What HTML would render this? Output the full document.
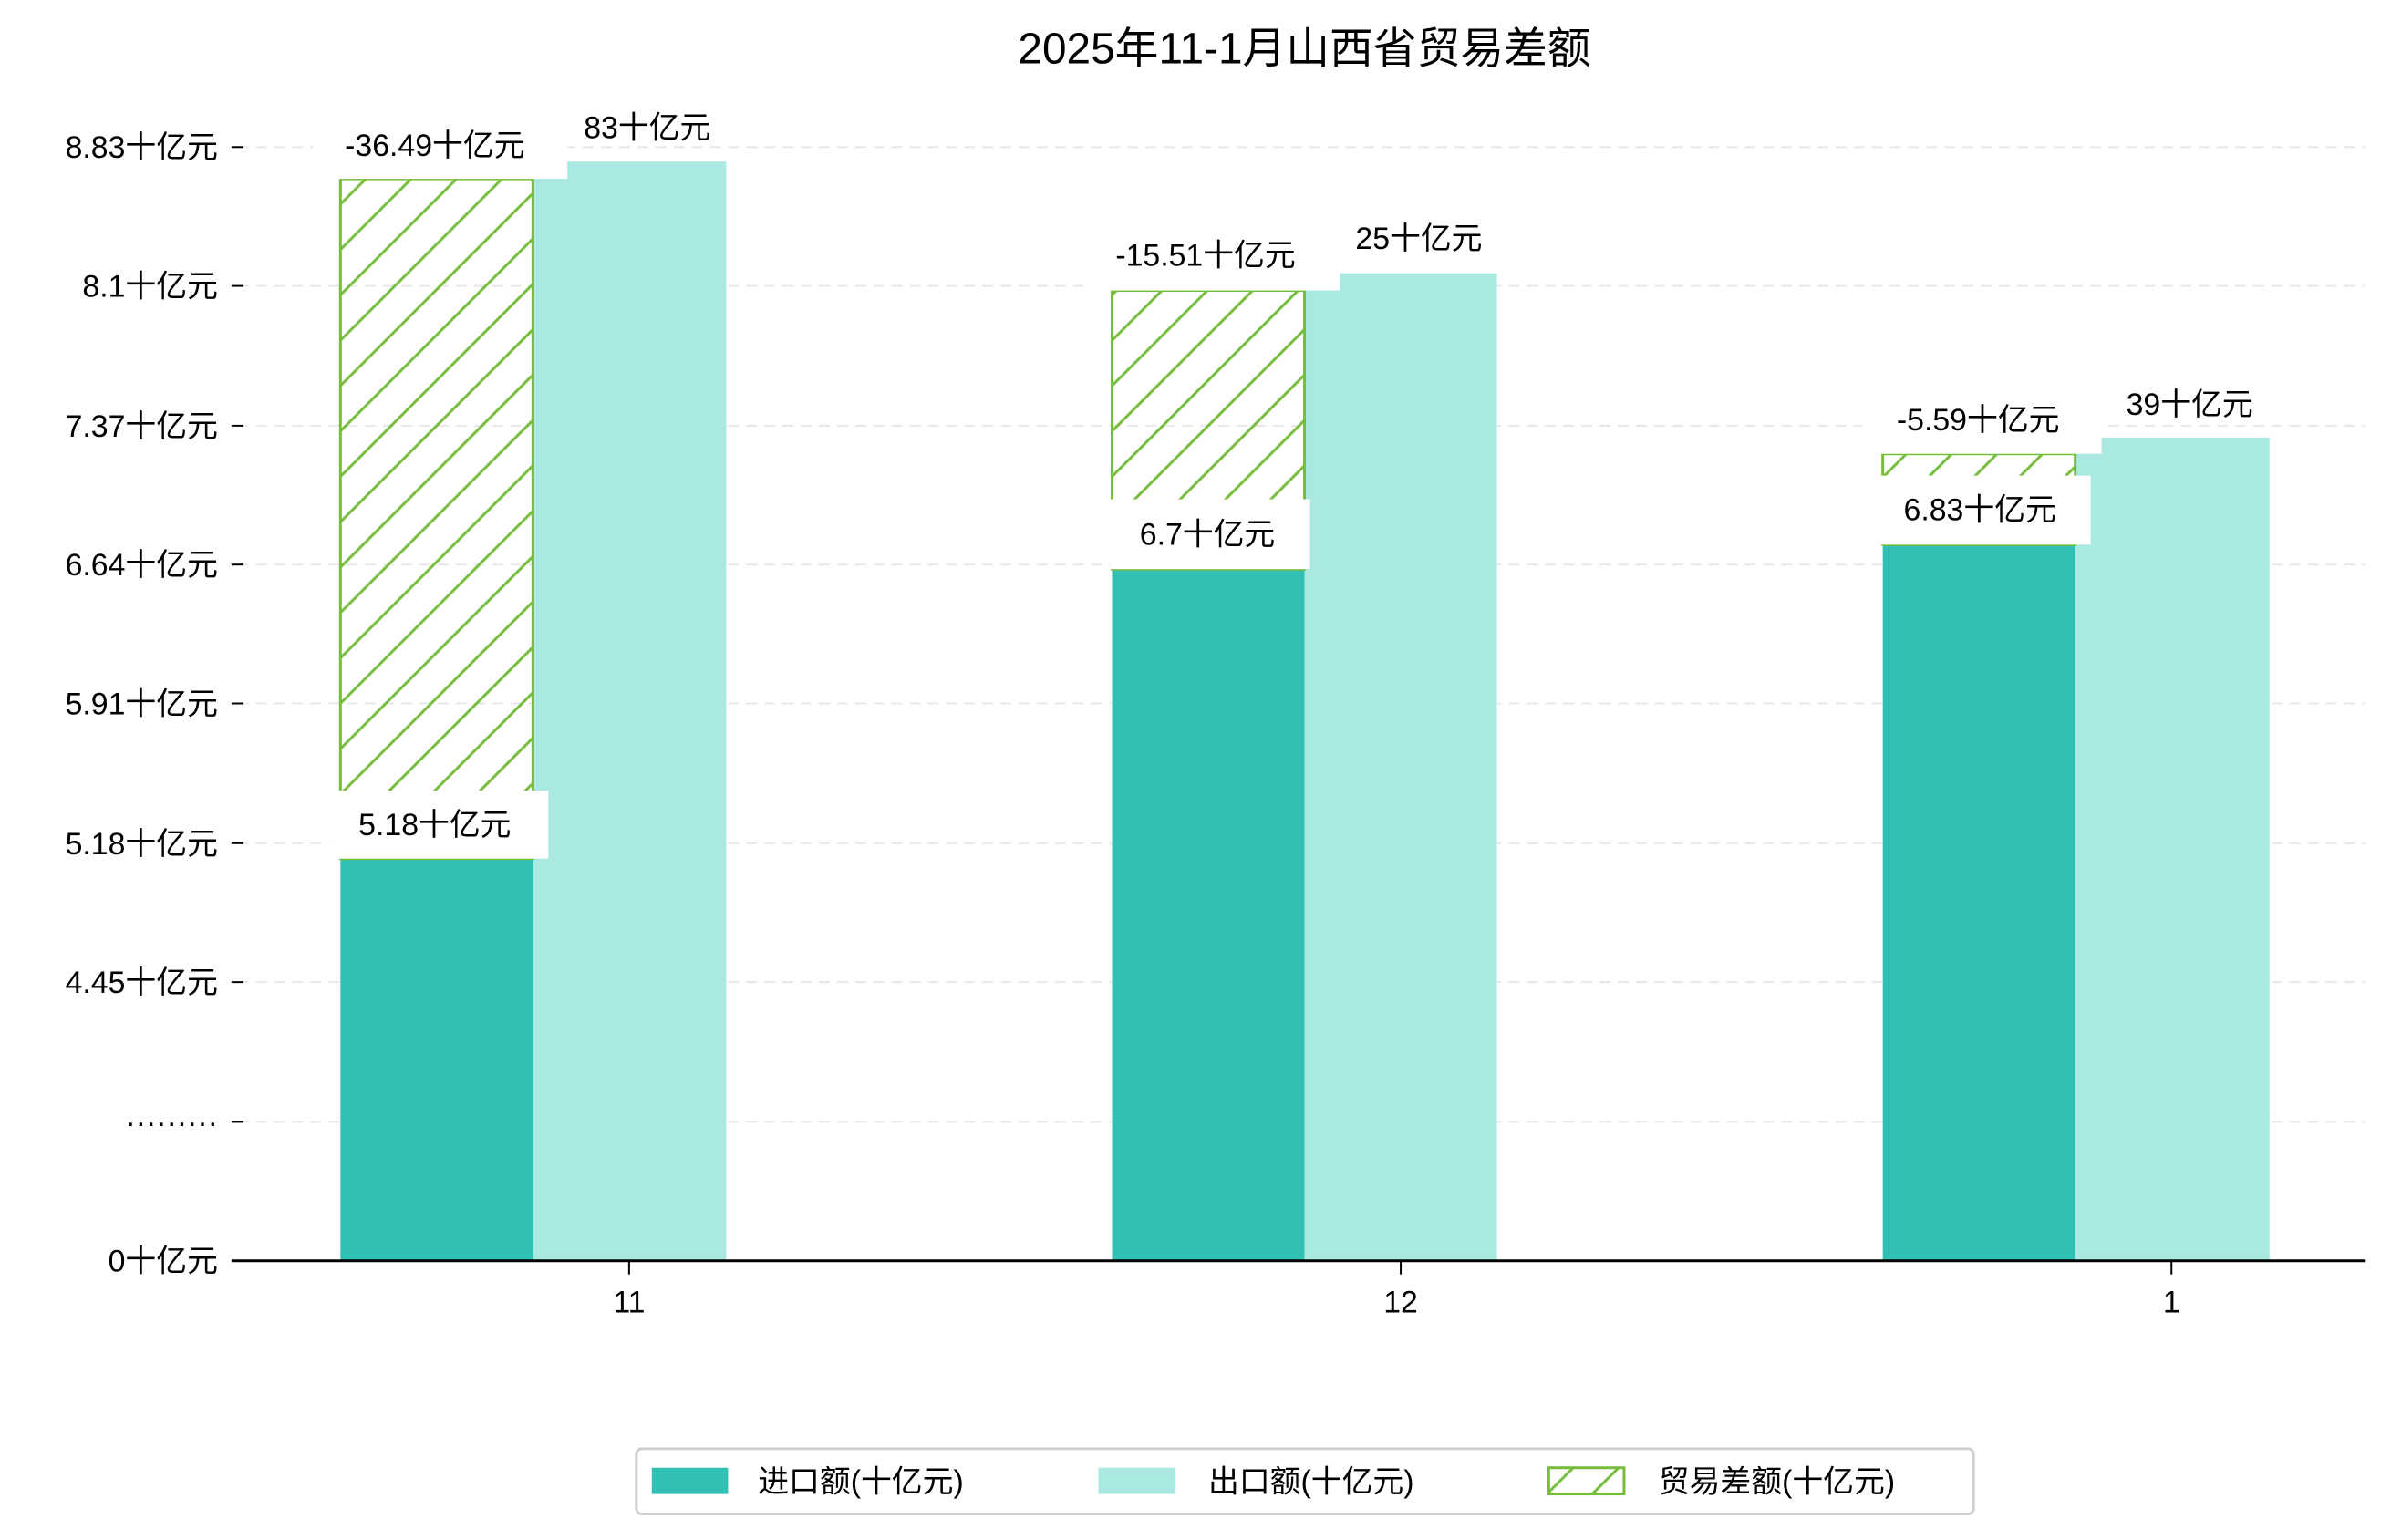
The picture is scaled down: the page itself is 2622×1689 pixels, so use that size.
<!DOCTYPE html>
<html><head><meta charset="utf-8"><style>
html,body{margin:0;padding:0;background:#fff;}
svg{display:block;}
text{font-family:"Liberation Sans","Noto Sans CJK SC",sans-serif;fill:#000;}
</style></head><body>
<svg width="2622" height="1689" viewBox="0 0 2622 1689" xmlns="http://www.w3.org/2000/svg">
<defs>
<pattern id="h" patternUnits="userSpaceOnUse" width="50" height="50">
<path d="M-10,60 L60,-10 M-10,10 L10,-10 M40,60 L60,40" stroke="#76bd3c" stroke-width="3"/>
</pattern>
</defs>
<g transform="scale(0.9955)">
<text x="1437" y="70" font-size="48" text-anchor="middle">2025年11-1月山西省贸易差额</text>
<g stroke="#e8e8e8" stroke-width="2" stroke-dasharray="12,8">
<line x1="262" y1="162" x2="2606" y2="162"/>
<line x1="262" y1="315" x2="2606" y2="315"/>
<line x1="262" y1="469" x2="2606" y2="469"/>
<line x1="262" y1="622" x2="2606" y2="622"/>
<line x1="262" y1="775" x2="2606" y2="775"/>
<line x1="262" y1="929" x2="2606" y2="929"/>
<line x1="262" y1="1082" x2="2606" y2="1082"/>
<line x1="262" y1="1236" x2="2606" y2="1236"/>
</g>
<g stroke="#000" stroke-width="2">
<line x1="255" y1="162" x2="268" y2="162"/>
<line x1="255" y1="315" x2="268" y2="315"/>
<line x1="255" y1="469" x2="268" y2="469"/>
<line x1="255" y1="622" x2="268" y2="622"/>
<line x1="255" y1="775" x2="268" y2="775"/>
<line x1="255" y1="929" x2="268" y2="929"/>
<line x1="255" y1="1082" x2="268" y2="1082"/>
<line x1="255" y1="1236" x2="268" y2="1236"/>
<line x1="693" y1="1389" x2="693" y2="1404"/>
<line x1="1543" y1="1389" x2="1543" y2="1404"/>
<line x1="2392" y1="1389" x2="2392" y2="1404"/>
</g>
<g font-size="34" text-anchor="end">
<text x="240" y="174">8.83十亿元</text>
<text x="240" y="327">8.1十亿元</text>
<text x="240" y="481">7.37十亿元</text>
<text x="240" y="634">6.64十亿元</text>
<text x="240" y="787">5.91十亿元</text>
<text x="240" y="941">5.18十亿元</text>
<text x="240" y="1094">4.45十亿元</text>
<text x="240" y="1248">·········</text>
<text x="240" y="1401">0十亿元</text>
</g>
<rect x="375" y="946" width="212" height="443" fill="#31c0b3"/>
<rect x="587" y="178" width="213" height="1211" fill="#aae8e2"/>
<rect x="375" y="197" width="212" height="749" fill="url(#h)" stroke="#76bd3c" stroke-width="3"/>
<rect x="1225" y="627" width="212" height="762" fill="#31c0b3"/>
<rect x="1437" y="301" width="212" height="1088" fill="#aae8e2"/>
<rect x="1225" y="320" width="212" height="307" fill="url(#h)" stroke="#76bd3c" stroke-width="3"/>
<rect x="2074" y="600" width="212" height="789" fill="#31c0b3"/>
<rect x="2286" y="482" width="214" height="907" fill="#aae8e2"/>
<rect x="2074" y="500" width="212" height="100" fill="url(#h)" stroke="#76bd3c" stroke-width="3"/>
<line x1="255" y1="1389" x2="2606" y2="1389" stroke="#000" stroke-width="3"/>
<g fill="#fff">
<rect x="345" y="130" width="280" height="67"/>
<rect x="362" y="871" width="242" height="75"/>
<rect x="1193" y="252" width="283" height="68"/>
<rect x="1223" y="550" width="220" height="77"/>
<rect x="2051" y="434" width="264" height="66"/>
<rect x="2064" y="524" width="239" height="76"/>
</g>
<g font-size="34" text-anchor="middle">
<text x="479" y="172">-36.49十亿元</text>
<text x="713" y="152">83十亿元</text>
<text x="479" y="920">5.18十亿元</text>
<text x="1328" y="293">-15.51十亿元</text>
<text x="1563" y="274">25十亿元</text>
<text x="1330" y="600">6.7十亿元</text>
<text x="2179" y="474">-5.59十亿元</text>
<text x="2412" y="457">39十亿元</text>
<text x="2181" y="573">6.83十亿元</text>
</g>
<g font-size="34" text-anchor="middle">
<text x="693" y="1446">11</text>
<text x="1543" y="1446">12</text>
<text x="2392" y="1446">1</text>
</g>
<rect x="701" y="1596" width="1473" height="72" rx="6" fill="#fff" stroke="#d0d0d0" stroke-width="3"/>
<rect x="718" y="1617" width="84" height="29" fill="#31c0b3"/>
<text x="835" y="1644" font-size="34">进口额(十亿元)</text>
<rect x="1210" y="1617" width="84" height="29" fill="#aae8e2"/>
<text x="1331" y="1644" font-size="34">出口额(十亿元)</text>
<rect x="1706" y="1617" width="83" height="29" fill="url(#h)" stroke="#76bd3c" stroke-width="3"/>
<text x="1827" y="1644" font-size="34">贸易差额(十亿元)</text>
</g>
</svg>
</body></html>
